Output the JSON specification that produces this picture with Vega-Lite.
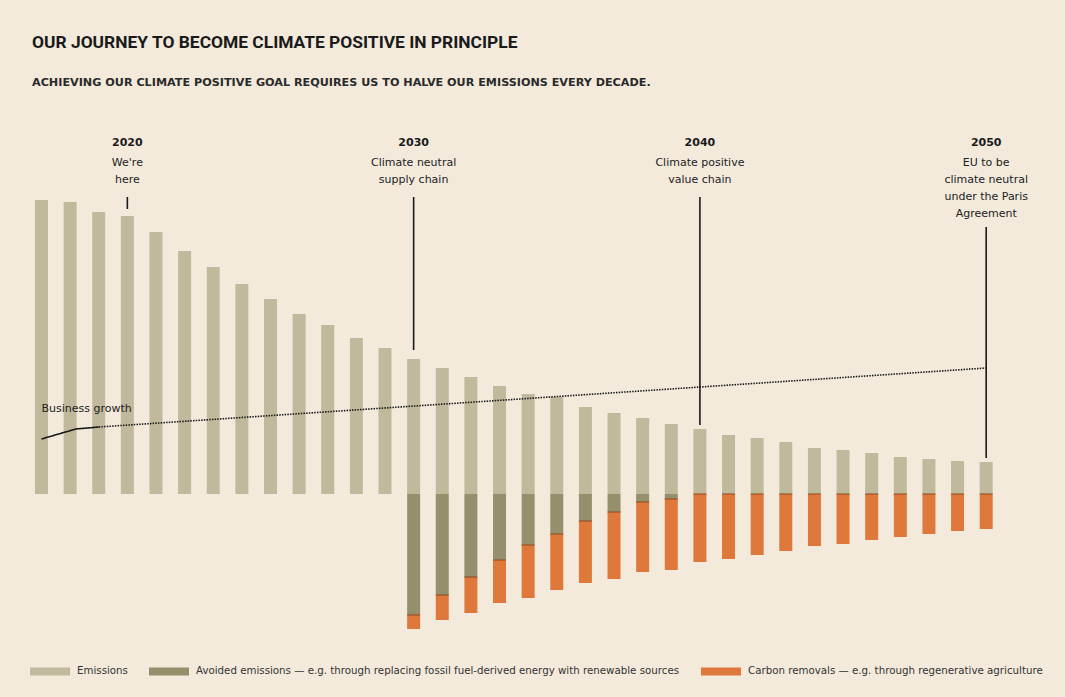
{
  "$schema": "https://vega.github.io/schema/vega-lite/v6.json",
  "width": 1012,
  "height": 520,
  "autosize": {"type": "none"},
  "padding": {"left": 20, "top": 120, "right": 33, "bottom": 57},
  "background": "#f3eadc",
  "title": {
    "text": "OUR JOURNEY TO BECOME CLIMATE POSITIVE IN PRINCIPLE",
    "subtitle": "ACHIEVING OUR CLIMATE POSITIVE GOAL REQUIRES US TO HALVE OUR EMISSIONS EVERY DECADE.",
    "anchor": "start",
    "frame": "group",
    "dx": 12,
    "offset": 32,
    "font": "Roboto",
    "fontSize": 17.4,
    "fontWeight": "bold",
    "color": "#1a1a1a",
    "subtitleFont": "DejaVu Sans",
    "subtitleFontSize": 11.2,
    "subtitleFontWeight": "bold",
    "subtitleColor": "#2a2a2a",
    "subtitlePadding": 25
  },
  "datasets": {
    "bars": [
      {"year": 2017, "type": "Emissions", "value": 294},
      {"year": 2018, "type": "Emissions", "value": 292},
      {"year": 2019, "type": "Emissions", "value": 282},
      {"year": 2020, "type": "Emissions", "value": 278},
      {"year": 2021, "type": "Emissions", "value": 262},
      {"year": 2022, "type": "Emissions", "value": 243},
      {"year": 2023, "type": "Emissions", "value": 227},
      {"year": 2024, "type": "Emissions", "value": 210},
      {"year": 2025, "type": "Emissions", "value": 195},
      {"year": 2026, "type": "Emissions", "value": 180},
      {"year": 2027, "type": "Emissions", "value": 169},
      {"year": 2028, "type": "Emissions", "value": 156},
      {"year": 2029, "type": "Emissions", "value": 146},
      {"year": 2030, "type": "Emissions", "value": 135},
      {"year": 2031, "type": "Emissions", "value": 126},
      {"year": 2032, "type": "Emissions", "value": 117},
      {"year": 2033, "type": "Emissions", "value": 108},
      {"year": 2034, "type": "Emissions", "value": 100},
      {"year": 2035, "type": "Emissions", "value": 97},
      {"year": 2036, "type": "Emissions", "value": 87},
      {"year": 2037, "type": "Emissions", "value": 81},
      {"year": 2038, "type": "Emissions", "value": 76},
      {"year": 2039, "type": "Emissions", "value": 70},
      {"year": 2040, "type": "Emissions", "value": 65},
      {"year": 2041, "type": "Emissions", "value": 59},
      {"year": 2042, "type": "Emissions", "value": 56},
      {"year": 2043, "type": "Emissions", "value": 52},
      {"year": 2044, "type": "Emissions", "value": 46},
      {"year": 2045, "type": "Emissions", "value": 44},
      {"year": 2046, "type": "Emissions", "value": 41},
      {"year": 2047, "type": "Emissions", "value": 37},
      {"year": 2048, "type": "Emissions", "value": 35},
      {"year": 2049, "type": "Emissions", "value": 33},
      {"year": 2050, "type": "Emissions", "value": 32},
      {"year": 2030, "type": "Avoided emissions — e.g. through replacing fossil fuel-derived energy with renewable sources", "value": -121},
      {"year": 2031, "type": "Avoided emissions — e.g. through replacing fossil fuel-derived energy with renewable sources", "value": -101},
      {"year": 2032, "type": "Avoided emissions — e.g. through replacing fossil fuel-derived energy with renewable sources", "value": -83},
      {"year": 2033, "type": "Avoided emissions — e.g. through replacing fossil fuel-derived energy with renewable sources", "value": -66},
      {"year": 2034, "type": "Avoided emissions — e.g. through replacing fossil fuel-derived energy with renewable sources", "value": -51},
      {"year": 2035, "type": "Avoided emissions — e.g. through replacing fossil fuel-derived energy with renewable sources", "value": -40},
      {"year": 2036, "type": "Avoided emissions — e.g. through replacing fossil fuel-derived energy with renewable sources", "value": -27},
      {"year": 2037, "type": "Avoided emissions — e.g. through replacing fossil fuel-derived energy with renewable sources", "value": -18},
      {"year": 2038, "type": "Avoided emissions — e.g. through replacing fossil fuel-derived energy with renewable sources", "value": -8},
      {"year": 2039, "type": "Avoided emissions — e.g. through replacing fossil fuel-derived energy with renewable sources", "value": -5},
      {"year": 2030, "type": "Carbon removals — e.g. through regenerative agriculture", "value": -14},
      {"year": 2031, "type": "Carbon removals — e.g. through regenerative agriculture", "value": -25},
      {"year": 2032, "type": "Carbon removals — e.g. through regenerative agriculture", "value": -36},
      {"year": 2033, "type": "Carbon removals — e.g. through regenerative agriculture", "value": -43},
      {"year": 2034, "type": "Carbon removals — e.g. through regenerative agriculture", "value": -53},
      {"year": 2035, "type": "Carbon removals — e.g. through regenerative agriculture", "value": -56},
      {"year": 2036, "type": "Carbon removals — e.g. through regenerative agriculture", "value": -62},
      {"year": 2037, "type": "Carbon removals — e.g. through regenerative agriculture", "value": -67},
      {"year": 2038, "type": "Carbon removals — e.g. through regenerative agriculture", "value": -70},
      {"year": 2039, "type": "Carbon removals — e.g. through regenerative agriculture", "value": -71},
      {"year": 2040, "type": "Carbon removals — e.g. through regenerative agriculture", "value": -68},
      {"year": 2041, "type": "Carbon removals — e.g. through regenerative agriculture", "value": -65},
      {"year": 2042, "type": "Carbon removals — e.g. through regenerative agriculture", "value": -61},
      {"year": 2043, "type": "Carbon removals — e.g. through regenerative agriculture", "value": -57},
      {"year": 2044, "type": "Carbon removals — e.g. through regenerative agriculture", "value": -52},
      {"year": 2045, "type": "Carbon removals — e.g. through regenerative agriculture", "value": -50},
      {"year": 2046, "type": "Carbon removals — e.g. through regenerative agriculture", "value": -46},
      {"year": 2047, "type": "Carbon removals — e.g. through regenerative agriculture", "value": -43},
      {"year": 2048, "type": "Carbon removals — e.g. through regenerative agriculture", "value": -40},
      {"year": 2049, "type": "Carbon removals — e.g. through regenerative agriculture", "value": -37},
      {"year": 2050, "type": "Carbon removals — e.g. through regenerative agriculture", "value": -35}
    ],
    "growth": [
      {"year": 2017, "index": 55, "segment": "actual"},
      {"year": 2018.2, "index": 65, "segment": "actual"},
      {"year": 2019, "index": 67, "segment": "actual"},
      {"year": 2019, "index": 67, "segment": "projected"},
      {"year": 2050, "index": 126, "segment": "projected"}
    ],
    "notes": [
      {"year": 2020, "head": "2020", "desc": "We're\nhere", "from": 297, "to": 285},
      {"year": 2030, "head": "2030", "desc": "Climate neutral\nsupply chain", "from": 297, "to": 144},
      {"year": 2040, "head": "2040", "desc": "Climate positive\nvalue chain", "from": 297, "to": 69},
      {"year": 2050, "head": "2050", "desc": "EU to be\nclimate neutral\nunder the Paris\nAgreement", "from": 267, "to": 36}
    ]
  },
  "layer": [
    {
      "data": {"name": "bars"},
      "mark": {"type": "bar", "width": 13},
      "encoding": {
        "x": {"field": "year", "type": "quantitative", "scale": {"domain": [2016.25, 2051.6], "nice": false, "zero": false, "padding": 0}, "axis": null},
        "y": {"field": "value", "type": "quantitative", "stack": "zero", "scale": {"domain": [-146, 374], "nice": false, "zero": false, "padding": 0}, "axis": null},
        "color": {
          "field": "type",
          "type": "nominal",
          "scale": {
            "domain": ["Emissions", "Avoided emissions — e.g. through replacing fossil fuel-derived energy with renewable sources", "Carbon removals — e.g. through regenerative agriculture"],
            "range": ["#c1b99b", "#968f6b", "#df783b"]
          },
          "legend": {
            "title": null,
            "orient": "none",
            "legendX": 10,
            "legendY": 531,
            "direction": "horizontal",
            "symbolType": "M-1,-0.2H1V0.2H-1Z",
            "symbolSize": 1600,
            "symbolStrokeWidth": 0,
            "labelFont": "DejaVu Sans",
            "labelFontSize": 10.25,
            "labelColor": "#333333",
            "labelOffset": 7,
            "labelLimit": 1000,
            "columnPadding": 21,
            "padding": 0
          }
        },
        "order": {"field": "type", "sort": "ascending"}
      }
    },
    {
      "data": {"name": "bars"},
      "transform": [
        {"stack": "value", "groupby": ["year"], "sort": [{"field": "type", "order": "ascending"}], "as": ["v0", "v1"]},
        {"filter": "indexof(datum.type, 'Carbon') === 0"}
      ],
      "mark": {"type": "tick", "orient": "horizontal", "color": "#8e4a22", "thickness": 1.5, "size": 13},
      "encoding": {
        "x": {"field": "year", "type": "quantitative"},
        "y": {"field": "v0", "type": "quantitative"}
      }
    },
    {
      "mark": {"type": "rule", "color": "#bdb6a5", "strokeWidth": 1.5, "opacity": 0.8},
      "encoding": {
        "x": {"datum": 2016.3, "type": "quantitative"},
        "x2": {"datum": 2051.6},
        "y": {"datum": 0, "type": "quantitative"}
      }
    },
    {
      "data": {"name": "growth"},
      "mark": {"type": "line", "color": "#1a1a1a", "strokeWidth": 1.6},
      "encoding": {
        "x": {"field": "year", "type": "quantitative"},
        "y": {"field": "index", "type": "quantitative"},
        "detail": {"field": "segment"},
        "strokeDash": {
          "field": "segment",
          "type": "nominal",
          "scale": {"domain": ["actual", "projected"], "range": [[1, 0], [1.5, 1.2]]},
          "legend": null
        }
      }
    },
    {
      "data": {"values": [{"year": 2017, "label": "Business growth"}]},
      "mark": {"type": "text", "align": "left", "baseline": "middle", "font": "DejaVu Sans", "fontSize": 11, "color": "#222222", "dx": 0},
      "encoding": {
        "x": {"field": "year", "type": "quantitative"},
        "y": {"datum": 85, "type": "quantitative"},
        "text": {"field": "label"}
      }
    },
    {
      "data": {"name": "notes"},
      "mark": {"type": "rule", "color": "#1a1a1a", "strokeWidth": 1.6},
      "encoding": {
        "x": {"field": "year", "type": "quantitative"},
        "y": {"field": "from", "type": "quantitative"},
        "y2": {"field": "to"}
      }
    },
    {
      "data": {"name": "notes"},
      "mark": {"type": "text", "align": "center", "baseline": "middle", "font": "DejaVu Sans", "fontSize": 11, "fontWeight": "bold", "color": "#1a1a1a"},
      "encoding": {
        "x": {"field": "year", "type": "quantitative"},
        "y": {"datum": 351, "type": "quantitative"},
        "text": {"field": "head"}
      }
    },
    {
      "data": {"name": "notes"},
      "mark": {"type": "text", "align": "center", "baseline": "top", "font": "DejaVu Sans", "fontSize": 11, "color": "#222222", "lineBreak": "\n", "lineHeight": 17},
      "encoding": {
        "x": {"field": "year", "type": "quantitative"},
        "y": {"datum": 337, "type": "quantitative"},
        "text": {"field": "desc"}
      }
    }
  ],
  "config": {
    "view": {"stroke": null}
  }
}
